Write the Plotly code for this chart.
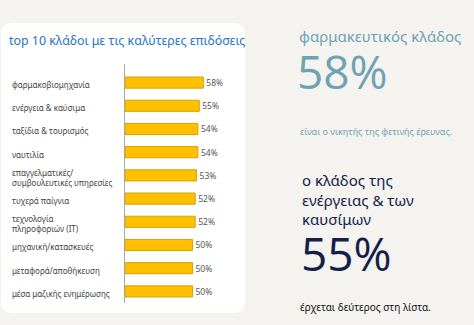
import plotly.graph_objects as go

W, H = 474, 325

categories = [
    "φαρμακοβιομηχανία",
    "ενέργεια & καύσιμα",
    "ταξίδια & τουρισμός",
    "ναυτιλία",
    "επαγγελματικές/<br>συμβουλευτικές υπηρεσίες",
    "τυχερά παίγνια",
    "τεχνολογία<br>πληροφοριών (IT)",
    "μηχανική/κατασκευές",
    "μεταφορά/αποθήκευση",
    "μέσα μαζικής ενημέρωσης",
]
values = [58, 55, 54, 54, 53, 52, 52, 50, 50, 50]
value_labels = [f"{v}%" for v in values]

title_text = "top 10 κλάδοι με τις καλύτερες επιδόσεις"
head1 = "φαρμακευτικός κλάδος"
big1 = "58%"
sub1 = "είναι ο νικητής της φετινής έρευνας."
head2 = "ο κλάδος της<br>ενέργειας & των<br>καυσίμων"
big2 = "55%"
sub2 = "έρχεται δεύτερος στη λίστα."

def px(x):
    return x / W

def py(y):
    return 1 - y / H

# plot geometry (pixels)
x_zero, x_right = 125, 245
y_top, y_bot = 64, 303
px_per_unit = 1.35
xmax = (x_right - x_zero) / px_per_unit

fig = go.Figure()
fig.add_trace(go.Bar(
    y=categories, x=values, orientation="h",
    marker=dict(color="#FFC000", line=dict(color="#D8A200", width=1)),
    width=0.48,
    text=value_labels, textposition="outside", cliponaxis=False,
    textfont=dict(family="Noto Sans", size=8.5, color="#555555"),
    hoverinfo="skip",
))

# rounded white panel
x0, x1, y0, y1, r = 1, 245, 23, 313, 12
path = (f"M {px(x0+r)} {py(y0)} L {px(x1-r)} {py(y0)} "
        f"Q {px(x1)} {py(y0)} {px(x1)} {py(y0+r)} "
        f"L {px(x1)} {py(y1-r)} Q {px(x1)} {py(y1)} {px(x1-r)} {py(y1)} "
        f"L {px(x0+r)} {py(y1)} Q {px(x0)} {py(y1)} {px(x0)} {py(y1-r)} "
        f"L {px(x0)} {py(y0+r)} Q {px(x0)} {py(y0)} {px(x0+r)} {py(y0)} Z")
fig.add_shape(type="path", path=path, xref="paper", yref="paper",
              fillcolor="white", line=dict(width=0), layer="below")

ann = []
for c in categories:
    ann.append(dict(x=px(10), xref="paper", xanchor="left", y=c, yref="y",
                    yanchor="middle", text=c, showarrow=False, align="left",
                    yshift=-2,
                    font=dict(family="Noto Sans", size=8, color="#444444")))

def txt(x, y, t, size, color, family="Noto Sans"):
    ann.append(dict(x=px(x), y=py(y), xref="paper", yref="paper",
                    xanchor="left", yanchor="middle", text=t, showarrow=False,
                    align="left",
                    font=dict(family=family, size=size, color=color)))

txt(7, 40, title_text, 12.4, "#2575C4")
txt(297, 36, head1, 15, "#6FA3B3")
txt(295, 71, big1, 46, "#6FA3B3", "Open Sans")
txt(298, 131, sub1, 9, "#6FA3B3")
txt(300, 199, head2, 15, "#151E4A")
txt(299, 253, big2, 46, "#151E4A", "Open Sans")
txt(298, 307, sub2, 10, "#111111")

fig.update_layout(
    width=W, height=H, margin=dict(l=0, r=0, t=0, b=0),
    paper_bgcolor="#F4F3EF", plot_bgcolor="rgba(0,0,0,0)",
    showlegend=False, annotations=ann,
    xaxis=dict(domain=[px(x_zero), px(x_right)], range=[0, xmax],
               visible=False, fixedrange=True),
    yaxis=dict(domain=[py(y_bot), py(y_top)], autorange=False,
               range=[9.5, -0.8], showticklabels=False, ticks="",
               showgrid=False, zeroline=False,
               showline=True, linecolor="#A8A8A8", linewidth=1,
               fixedrange=True),
)

fig.write_html("out.html")
